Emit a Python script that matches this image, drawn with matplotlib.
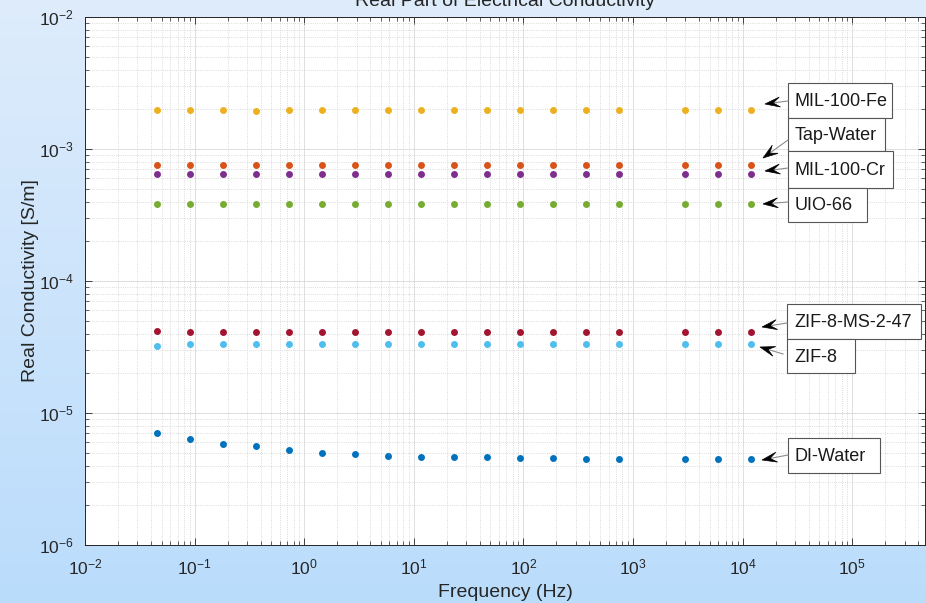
import numpy as np
import matplotlib
matplotlib.use("Agg")
import matplotlib.pyplot as plt
from matplotlib.ticker import LogLocator, NullFormatter
from matplotlib.patches import Rectangle, Polygon

plt.rcParams['font.family'] = ['Liberation Sans', 'DejaVu Sans']
plt.rcParams['mathtext.fontset'] = 'custom'
plt.rcParams['mathtext.rm'] = 'Liberation Sans'
plt.rcParams['mathtext.it'] = 'Liberation Sans:italic'
plt.rcParams['mathtext.bf'] = 'Liberation Sans:bold'

# ---------------- data ----------------
freq = [0.0454, 0.0908, 0.1816, 0.363, 0.727, 1.453, 2.906, 5.81, 11.63, 23.25,
        46.5, 93.0, 186.0, 372.0, 744.0, 2976.0, 5952.0, 11905.0]

di_water = [7.0e-6, 6.4e-6, 5.85e-6, 5.65e-6, 5.25e-6, 5.0e-6, 4.85e-6, 4.72e-6,
            4.67e-6, 4.63e-6, 4.62e-6, 4.56e-6, 4.55e-6, 4.52e-6, 4.52e-6,
            4.48e-6, 4.48e-6, 4.45e-6]
tap_water = [7.5e-4] * 18
mil100_fe = [1.97e-3, 1.97e-3, 1.97e-3, 1.93e-3, 1.97e-3, 1.97e-3, 1.97e-3, 1.97e-3,
             1.97e-3, 1.97e-3, 1.97e-3, 1.97e-3, 1.97e-3, 1.97e-3, 1.97e-3,
             1.97e-3, 1.97e-3, 1.97e-3]
mil100_cr = [6.45e-4] * 18
uio66 = [3.83e-4] * 18
zif8 = [3.22e-5, 3.33e-5, 3.35e-5, 3.35e-5, 3.35e-5, 3.35e-5, 3.35e-5, 3.35e-5,
        3.35e-5, 3.35e-5, 3.35e-5, 3.35e-5, 3.35e-5, 3.35e-5, 3.35e-5,
        3.35e-5, 3.35e-5, 3.35e-5]
zif8_ms = [4.15e-5, 4.12e-5, 4.1e-5, 4.08e-5, 4.08e-5, 4.08e-5, 4.08e-5, 4.08e-5,
           4.08e-5, 4.08e-5, 4.08e-5, 4.08e-5, 4.08e-5, 4.08e-5, 4.08e-5,
           4.08e-5, 4.08e-5, 4.08e-5]

series_names = ['DI-Water', 'Tap-Water', 'MIL-100-Fe', 'MIL-100-Cr', 'UIO-66',
                'ZIF-8', 'ZIF-8-MS-2-47']
series_vals = [di_water, tap_water, mil100_fe, mil100_cr, uio66, zif8, zif8_ms]
series_colors = ['#0072BD', '#D95319', '#EDB120', '#7E2F8E', '#77AC30',
                 '#4DBEEE', '#A2142F']

title = 'Real Part of Electrical Conductivity'
xlabel = 'Frequency (Hz)'
ylabel = 'Real Conductivity [S/m]'

# ---------------- figure ----------------
W, H = 926, 603
fig = plt.figure(figsize=(W / 100, H / 100), dpi=100)

# light blue gradient background
bg = fig.add_axes([0, 0, 1, 1], zorder=-10)
grad = np.linspace(0, 1, 256).reshape(-1, 1)
top = np.array([222, 236, 251]) / 255
bot = np.array([186, 220, 252]) / 255
img = top[None, None, :] * (1 - grad[:, :, None]) + bot[None, None, :] * grad[:, :, None]
bg.imshow(img, aspect='auto', extent=[0, 1, 0, 1])
bg.axis('off')

def fx(px):
    return px / W

def fy(py):
    return 1 - py / H

ax = fig.add_axes([fx(85), fy(545), fx(925) - fx(85), fy(17) - fy(545)])
ax.set_facecolor('white')
ax.set_xscale('log')
ax.set_yscale('log')
ax.set_xlim(1e-2, 10 ** 5.664)
ax.set_ylim(1e-6, 1e-2)

for name, vals, col in zip(series_names, series_vals, series_colors):
    ax.plot(freq, vals, linestyle='none', marker='o', markersize=5.0,
            color=col, markeredgewidth=0, label=name, zorder=3)

ax.xaxis.set_major_locator(LogLocator(base=10, numticks=20))
ax.xaxis.set_minor_locator(LogLocator(base=10, subs=np.arange(2, 10), numticks=20))
ax.yaxis.set_major_locator(LogLocator(base=10, numticks=20))
ax.yaxis.set_minor_locator(LogLocator(base=10, subs=np.arange(2, 10), numticks=20))
ax.xaxis.set_minor_formatter(NullFormatter())
ax.yaxis.set_minor_formatter(NullFormatter())

ax.grid(True, which='major', color='#d9d9d9', linestyle='-', linewidth=0.6, zorder=0)
ax.grid(True, which='minor', color='#cfcfcf', linestyle=':', linewidth=0.6, zorder=0)
ax.set_axisbelow(True)

ax.tick_params(which='both', direction='in', top=True, right=True, colors='#262626',
               labelsize=12.5)
ax.tick_params(which='major', length=5, width=0.6)
ax.tick_params(which='minor', length=3, width=0.5)
ax.tick_params(axis='x', pad=9)
ax.tick_params(axis='y', pad=8)
for s in ax.spines.values():
    s.set_color('#262626')
    s.set_linewidth(0.7)

ax.set_xlabel(xlabel, fontsize=14, color='#262626', labelpad=5)
ax.set_ylabel(ylabel, fontsize=14, color='#262626', labelpad=0)

fig.text(fx(505), fy(1), title, fontsize=14, color='#262626', ha='center', va='center')

# ---------------- text arrows ----------------
px = fig.dpi_scale_trans  # not used directly; coordinates converted by fx/fy
labels_layout = [
    # text, box (left, top, right, bottom) px, tip (x,y) px, tail (x,y) px
    ('MIL-100-Fe', (788, 83, 892, 118), (765, 104), (788, 101)),
    ('Tap-Water', (788, 118, 885, 151), (763, 158), (788, 140)),
    ('MIL-100-Cr', (788, 151, 893, 188), (765, 171), (788, 168)),
    ('UIO-66', (788, 188, 867, 222), (763, 204), (788, 202)),
    ('ZIF-8-MS-2-47', (787, 304, 921, 339), (762, 327), (787, 323)),
    ('ZIF-8', (787, 339, 855, 373), (760, 347), (783, 354)),
    ('DI-Water', (788, 438, 880, 473), (762, 460), (788, 455)),
]
for txt, (l, t, r, b), tip, tail in labels_layout:
    fig.add_artist(Rectangle((fx(l), fy(b)), fx(r) - fx(l), fy(t) - fy(b),
                             transform=fig.transFigure, facecolor='white',
                             edgecolor='#555555', linewidth=0.8, zorder=18))
    fig.text(fx(l + 7), fy((t + b) / 2 + 1), txt, fontsize=13, color='#1a1a1a',
             ha='left', va='center', zorder=20)
    # arrow head (swept-back) + grey shaft
    T = np.array(tip, dtype=float)
    d = np.array(tail, dtype=float) - T
    u = d / np.hypot(*d)
    n = np.array([-u[1], u[0]])
    L, w = 15.0, 5.0
    pts = [T, T + L * u + w * n, T + 0.55 * L * u, T + L * u - w * n]
    notch = T + 0.55 * L * u
    fig.add_artist(plt.Line2D([fx(notch[0]), fx(tail[0])], [fy(notch[1]), fy(tail[1])],
                              color='#8c8c8c', linewidth=0.8,
                              transform=fig.transFigure, zorder=19))
    fig.add_artist(Polygon([(fx(p[0]), fy(p[1])) for p in pts], closed=True,
                           transform=fig.transFigure, facecolor='black',
                           edgecolor='black', linewidth=0.5, zorder=21))

fig.savefig('out.png', dpi=100)
